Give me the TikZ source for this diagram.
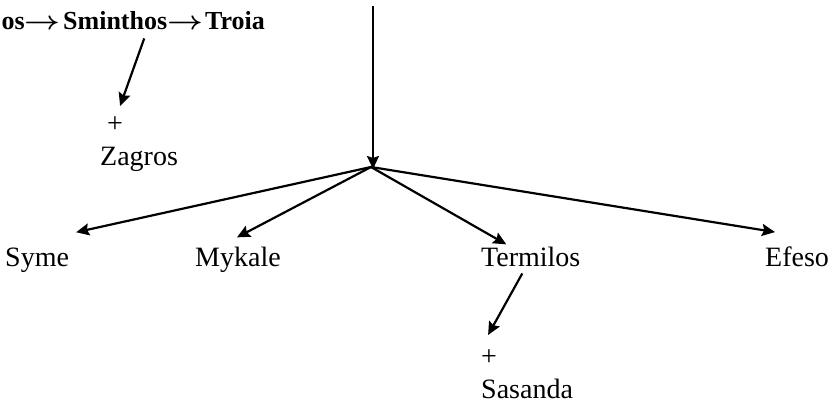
\RequirePackage{fix-cm}
\documentclass[tikz,border=0pt]{standalone}
\usepackage{fontspec}
\setmainfont{Liberation Serif}
\usetikzlibrary{arrows.meta}
\tikzset{
  lbl/.style={inner sep=0pt, anchor=base west, font=\fontsize{28}{33}\selectfont},
  blbl/.style={inner sep=0pt, anchor=base west, font=\fontsize{26}{30}\selectfont\bfseries},
  arr/.style={line width=2.2pt, -{Stealth[length=13pt,width=12pt,inset=2pt]}},
}
\begin{document}
\begin{tikzpicture}[x=1pt,y=-1pt]
\useasboundingbox (0,0) rectangle (840,404);
\clip (0,0) rectangle (840,404);
% top line
\node[blbl, anchor=base east] (os) at (25,30) {os};
\node[blbl] (ar1) at (24,30) {\scalebox{1.2}[1]{\boldmath$\rightarrow$}};
\node[blbl] (sminthos) at (63,30) {Sminthos};
\node[blbl] (ar2) at (167,30) {\scalebox{1.2}[1]{\boldmath$\rightarrow$}};
\node[blbl] (troia) at (205,30) {Troia};
\node[lbl] (zplus) at (107,132) {+};
\node[lbl] (zagros) at (100,165) {Zagros};
% hub
\coordinate (top) at (373,6);
\coordinate (hub) at (371,167);
% bottom row
\node[lbl] (syme) at (5,266) {Syme};
\node[lbl] (mykale) at (195,266) {Mykale};
\node[lbl] (termilos) at (481,266) {Termilos};
\node[lbl] (efeso) at (765,266) {Efeso};
\node[lbl] (splus) at (481,365) {+};
\node[lbl] (sasanda) at (481,398) {Sasanda};
% connectors
\draw[arr] (top) -- ([yshift=-2pt]top |- hub);
\draw[arr] (hub) -- ([shift={(7,-15)}]syme.north east);
\draw[arr] (hub) -- ([shift={(-1,-9)}]mykale.north);
\draw[arr] (hub) -- ([shift={(-24.5,-2)}]termilos.north);
\draw[arr] (hub) -- ([shift={(10,-14)}]efeso.north west);
\draw[arr] ([shift={(-8.5,7)}]termilos.south) -- ([shift={(-1,-14)}]splus.north);
\draw[arr] ([shift={(29,8)}]sminthos.south) -- ([shift={(5,-10)}]zplus.north);
\end{tikzpicture}
\end{document}
